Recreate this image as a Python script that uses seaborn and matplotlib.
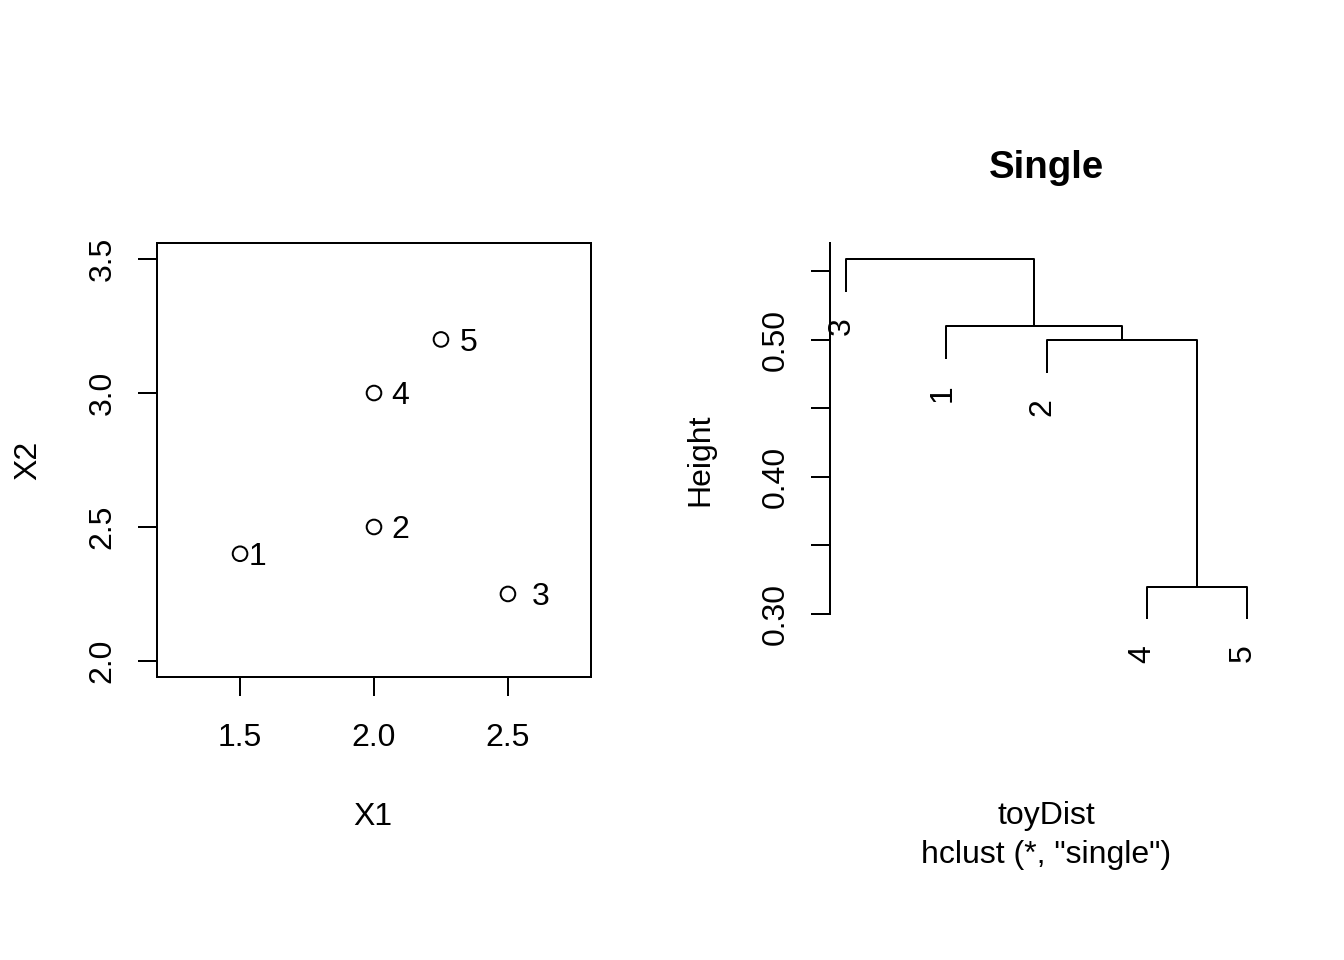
import numpy as np
import pandas as pd
import matplotlib
matplotlib.use("Agg")
import matplotlib.pyplot as plt
import seaborn as sns

# toy points
point_ids = ["1", "2", "3", "4", "5"]
x1 = [1.5, 2.0, 2.5, 2.0, 2.25]
x2 = [2.4, 2.5, 2.25, 3.0, 3.2]

# single linkage merges (R style: negative = leaf, positive = earlier merge)
merge_a = [-4, -2, -1, -3]
merge_b = [-5, 1, 2, 3]
merge_height = [0.320, 0.500, 0.510, 0.559]
leaf_order = [3, 1, 2, 4, 5]

height_ticks = [0.30, 0.35, 0.40, 0.45, 0.50, 0.55]
height_ticklabels = ["0.30", "", "0.40", "", "0.50", ""]

# label nudges to the right of each point (data units)
label_dx = [0.067, 0.10, 0.123, 0.097, 0.104]

sns.set_theme(style="ticks", rc={
    "axes.linewidth": 0.75,
    "axes.edgecolor": "black",
    "xtick.major.width": 0.75,
    "ytick.major.width": 0.75,
    "xtick.major.size": 7.2,
    "ytick.major.size": 7.2,
    "xtick.color": "black",
    "ytick.color": "black",
    "xtick.labelsize": 12,
    "ytick.labelsize": 12,
    "xtick.major.pad": 10.2,
    "ytick.major.pad": 7.5,
    "text.color": "black",
})
plt.rcParams["font.family"] = ["Liberation Sans", "DejaVu Sans"]

fig = plt.figure(figsize=(7, 5), dpi=192)
ax1 = fig.add_axes([157 / 1344, 1 - 677 / 960, 434 / 1344, 434 / 960])
ax2 = fig.add_axes([830 / 1344, 1 - 677 / 960, 433 / 1344, 434 / 960])

# ---- scatter ----
df = pd.DataFrame({"X1": x1, "X2": x2, "id": point_ids})
sns.scatterplot(data=df, x="X1", y="X2", ax=ax1, marker="o", s=30,
                facecolor="none", edgecolor="black", linewidth=0.75)
for i, row in df.iterrows():
    ax1.annotate(row["id"], (row["X1"] + label_dx[i], row["X2"]),
                 xytext=(0, -1.3), textcoords="offset points", fontsize=12,
                 ha="center", va="center")
ax1.set_xlim(1.19, 2.81)
ax1.set_ylim(1.94, 3.56)
ax1.set_xticks([1.5, 2.0, 2.5])
ax1.set_xticklabels(["1.5", "2.0", "2.5"])
ax1.set_yticks([2.0, 2.5, 3.0, 3.5])
ax1.set_yticklabels(["2.0", "2.5", "3.0", "3.5"], rotation=90, va="center")
ax1.set_xlabel("")
ax1.set_ylabel("")
for s in ax1.spines.values():
    s.set_visible(True)

# ---- dendrogram ----
leaf_x = {leaf: k + 1 for k, leaf in enumerate(leaf_order)}
hang = 0.1 * (max(merge_height) - min(merge_height))
node_x = {}
for i, (a, b) in enumerate(zip(merge_a, merge_b)):
    h = merge_height[i]
    xs, bottoms = [], []
    for c in (a, b):
        if c < 0:
            xs.append(leaf_x[-c])
            bottoms.append(h - hang)
        else:
            xs.append(node_x[c])
            bottoms.append(merge_height[c - 1])
    node_x[i + 1] = (xs[0] + xs[1]) / 2
    ax2.plot([xs[0], xs[0], xs[1], xs[1]], [bottoms[0], h, h, bottoms[1]],
             color="black", lw=0.75, solid_capstyle="butt")
    for c, xc, yb in zip((a, b), xs, bottoms):
        if c < 0:
            ax2.annotate(str(-c), (xc, yb), xytext=(-1.5, -9.5),
                         textcoords="offset points", rotation=90,
                         rotation_mode="anchor", ha="right", va="center",
                         fontsize=12)

ax2.set_xlim(0.84, 5.16)
ax2.set_ylim(0.254, 0.5708)
ax2.set_xticks([])
ax2.set_yticks(height_ticks)
ax2.set_yticklabels(height_ticklabels, rotation=90, va="center")
for side in ["top", "right", "bottom"]:
    ax2.spines[side].set_visible(False)
ax2.spines["left"].set_bounds(0.30, 0.5708)

# ---- titles and labels ----
fig.text(373 / 1344, 1 - 825 / 960, "X1", fontsize=12, ha="center", va="baseline")
fig.text(36 / 1344, 0.5 + 20 / 960, "X2", fontsize=12, ha="center",
         va="baseline", rotation=90, rotation_mode="anchor")
fig.text(708 / 1344, 0.5 + 20 / 960, "Height", fontsize=12, ha="center",
         va="baseline", rotation=90, rotation_mode="anchor")
fig.text(1046 / 1344, 1 - 178 / 960, "Single", fontsize=14.4,
         fontweight="bold", ha="center", va="baseline")
fig.text(1046 / 1344, 1 - 824 / 960, "toyDist", fontsize=12, ha="center",
         va="baseline")
fig.text(1046 / 1344, 1 - 863 / 960, 'hclust (*, "single")', fontsize=12,
         ha="center", va="baseline")

fig.savefig("out.png", dpi=192)
